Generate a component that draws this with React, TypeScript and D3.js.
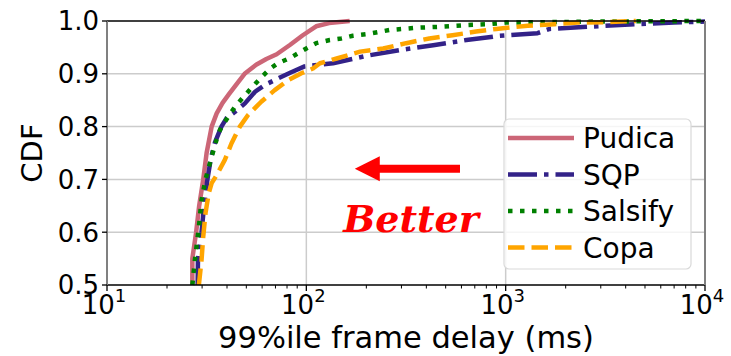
import { line, scaleLog, scaleLinear } from "d3"

// delays (ms) vs CDF
const pudica: [number, number][] = [
    [26.8, 0.5], [26.8, 0.55], [28, 0.6], [29, 0.65], [30.4, 0.7], [31.6, 0.75], [33.5, 0.8],
    [35.5, 0.825], [38, 0.845], [41, 0.862], [45, 0.882], [49, 0.9], [56, 0.917], [63, 0.928],
    [71, 0.937], [83, 0.955], [96, 0.973], [112, 0.99], [130, 0.996], [165, 1.0],
]
const sqp: [number, number][] = [
    [28.5, 0.5], [28.6, 0.55], [29.8, 0.6], [30.7, 0.65], [31.9, 0.7], [33.2, 0.74], [34.8, 0.77],
    [37.5, 0.8], [39.8, 0.816], [43.9, 0.828], [49.2, 0.844], [55.3, 0.866], [62, 0.879],
    [72, 0.891], [84, 0.903], [98, 0.914], [136, 0.92], [200, 0.934], [294, 0.945], [433, 0.954],
    [635, 0.964], [863, 0.97], [933, 0.972], [1445, 0.977], [1665, 0.985], [2560, 0.989],
    [4580, 0.994], [7000, 0.997], [10000, 0.999],
]
const salsify: [number, number][] = [
    [26.8, 0.5], [27.6, 0.547], [28.9, 0.61], [29.8, 0.661], [31.2, 0.7], [33.5, 0.743],
    [35.5, 0.776], [36.9, 0.794], [39, 0.809], [43.9, 0.838], [53, 0.873], [59, 0.892],
    [66, 0.91], [72, 0.92], [82, 0.929], [100, 0.948], [112, 0.958], [131, 0.964], [150, 0.967],
    [171, 0.972], [200, 0.975], [262, 0.983], [350, 0.987], [465, 0.989], [620, 0.992],
    [830, 0.994], [1000, 0.997], [3000, 0.999], [10000, 1.0],
]
const copa: [number, number][] = [
    [28.9, 0.5], [29.8, 0.547], [30.4, 0.592], [31.2, 0.636], [32.4, 0.674], [33.5, 0.693],
    [35.5, 0.708], [39, 0.737], [42.1, 0.768], [46.4, 0.8], [51, 0.822], [59.4, 0.847],
    [69.4, 0.869], [81, 0.888], [94.5, 0.901], [108, 0.91], [117, 0.92], [142, 0.929],
    [186, 0.942], [243, 0.948], [317, 0.958], [414, 0.967], [541, 0.973], [710, 0.98],
    [897, 0.985], [1290, 0.991], [1760, 0.994], [2300, 0.997], [3250, 0.998], [4500, 1.0],
]

const names = ["Pudica", "SQP", "Salsify", "Copa"]
const colors = ["#cc6677", "#332288", "#008000", "#ffa500"]
const dashes = ["none", "29 7 4.5 7", "4.5 7.5", "16.5 7"]
const series = [pudica, sqp, salsify, copa]

const yTicks = [0.5, 0.6, 0.7, 0.8, 0.9, 1.0]
const xTicks = [10, 100, 1000, 10000]

const W = 731
const H = 356
const left = 107, right = 705, top = 21, bottom = 285
const font = "DejaVu Sans"

const App = () => {
    const x = scaleLog().domain([10, 10000]).range([left, right])
    const y = scaleLinear().domain([0.5, 1.0]).range([bottom, top])
    const path = line<[number, number]>().x(d => x(d[0])).y(d => y(d[1]))

    const minor: number[] = []
    for (let d = 1; d < 4; d++) {
        for (let k = 2; k < 10; k++) minor.push(k * Math.pow(10, d))
    }

    // arrow in data coords
    const ax0 = x(590), ax1 = x(175), ay = y(0.72)

    return (
        <svg width={W} height={H} style={{ position: "absolute", left: 0, top: 0, background: "#fff" }}
            fontFamily={font}>
            <rect width={W} height={H} fill="#fff" />
            {/* grid */}
            {yTicks.slice(1, -1).map(t => (
                <line key={"gy" + t} x1={left} x2={right} y1={y(t)} y2={y(t)} stroke="#cccccc" strokeWidth={1.5} />
            ))}
            {xTicks.slice(1, -1).map(t => (
                <line key={"gx" + t} x1={x(t)} x2={x(t)} y1={top} y2={bottom} stroke="#cccccc" strokeWidth={1.5} />
            ))}

            {/* curves */}
            <g fill="none">
                {series.map((s, i) => (
                    <path key={names[i]} d={path(s) ?? ""} stroke={colors[i]} strokeWidth={4.5}
                        strokeDasharray={dashes[i]} strokeLinecap="butt" strokeLinejoin="round" />
                ))}
            </g>

            {/* spines */}
            <line x1={left} x2={right} y1={top} y2={top} stroke="#000" strokeWidth={1.5} />
            <line x1={left} x2={right} y1={bottom} y2={bottom} stroke="#000" strokeWidth={1.5} />
            <line x1={left} x2={left} y1={top} y2={bottom} stroke="#808080" strokeWidth={2} />
            <line x1={right} x2={right} y1={top} y2={bottom} stroke="#808080" strokeWidth={2} />

            {/* x ticks */}
            {minor.map(t => (
                <line key={"m" + t} x1={x(t)} x2={x(t)} y1={bottom} y2={bottom + 3.5} stroke="#000" strokeWidth={1} />
            ))}
            {xTicks.map(t => (
                <g key={"xt" + t}>
                    <line x1={x(t)} x2={x(t)} y1={bottom} y2={bottom + 6} stroke="#000" strokeWidth={1.3} />
                    <text x={x(t) - 3} y={314} textAnchor="middle" fontSize={26}>
                        10<tspan fontSize={18} dy={-12}>{Math.round(Math.log10(t))}</tspan>
                    </text>
                </g>
            ))}

            {/* y ticks */}
            {yTicks.map(t => (
                <g key={"yt" + t}>
                    <line x1={left - 5} x2={left} y1={y(t)} y2={y(t)} stroke="#000" strokeWidth={1.3} />
                    <text x={99} y={y(t)} dy="0.36em" textAnchor="end" fontSize={26}>{t.toFixed(1)}</text>
                </g>
            ))}

            <text x={(left + right) / 2} y={348} textAnchor="middle" fontSize={30.5}>99%ile frame delay (ms)</text>
            <text transform={`translate(42,${(top + bottom) / 2}) rotate(-90)`} textAnchor="middle" fontSize={29}>CDF</text>

            {/* annotation */}
            <path d={`M${ax1},${ay} L${ax1 + 25},${ay - 12.5} L${ax1 + 25},${ay - 4} L${ax0},${ay - 4} L${ax0},${ay + 4} L${ax1 + 25},${ay + 4} L${ax1 + 25},${ay + 12.5} Z`} fill="#ff0000" />
            <text x={x(335)} y={y(0.6)} textAnchor="middle" fontFamily="DejaVu Serif" fontWeight="bold"
                fontStyle="italic" fontSize={38} fill="#ff0000">Better</text>

            {/* legend */}
            <rect x={504} y={119} width={187} height={150} rx={5} fill="#fff" fillOpacity={0.8} stroke="#d9d9d9" strokeWidth={1.2} />
            {names.map((n, i) => {
                const ly = 138 + i * 36.5
                return (
                    <g key={"lg" + n}>
                        <line x1={508} x2={574} y1={ly} y2={ly} stroke={colors[i]} strokeWidth={4.5}
                            strokeDasharray={dashes[i]} />
                        <text x={583} y={ly} dy="0.36em" fontSize={28}>{n}</text>
                    </g>
                )
            })}
        </svg>
    )
}

export default App
